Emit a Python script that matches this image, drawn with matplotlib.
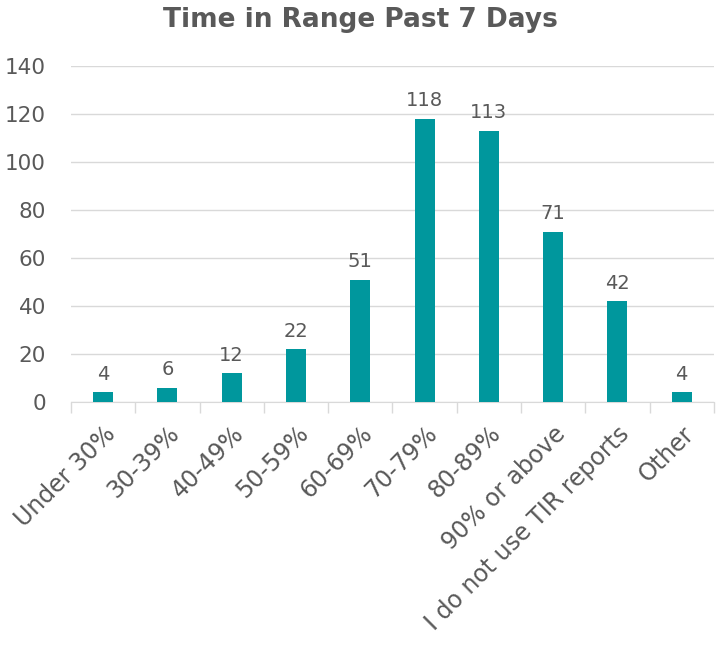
import matplotlib
matplotlib.use("Agg")
import matplotlib.pyplot as plt
import numpy as np

categories = ["Under 30%", "30-39%", "40-49%", "50-59%", "60-69%", "70-79%",
              "80-89%", "90% or above", "I do not use TIR reports", "Other"]
values = [4, 6, 12, 22, 51, 118, 113, 71, 42, 4]
yticks = [0, 20, 40, 60, 80, 100, 120, 140]

plt.rcParams['font.family'] = ['DejaVu Sans']
text_color = '#595959'
bar_color = '#00979D'
grid_color = '#D9D9D9'

fig = plt.figure(figsize=(7.21, 6.59), dpi=100)
ax = fig.add_axes([0.0985, 0.390, 0.8915, 0.510])

x = np.arange(len(categories))
ax.bar(x, values, width=0.31, color=bar_color, zorder=3)
for xi, v in zip(x, values):
    ax.text(xi, v + 3.5, str(v), ha='center', va='bottom', fontsize=14, color=text_color)

ax.set_xlim(-0.5, len(categories) - 0.5)
ax.set_ylim(0, 140)
ax.set_yticks(yticks)
ax.set_yticklabels([str(t) for t in yticks], fontsize=15.5, color=text_color)
ax.yaxis.grid(True, color=grid_color, linewidth=1, zorder=0)
ax.tick_params(axis='y', length=0, pad=18)

ax.set_xticks(x)
ax.set_xticklabels(categories, rotation=45, ha='right', rotation_mode='anchor',
                   fontsize=17, color=text_color)
ax.tick_params(axis='x', length=0, pad=14)
ax.set_xticks(np.arange(-0.5, len(categories) + 0.5, 1), minor=True)
ax.tick_params(axis='x', which='minor', length=8, color=grid_color, width=1)

for s in ['top', 'right', 'left']:
    ax.spines[s].set_visible(False)
ax.spines['bottom'].set_color(grid_color)

fig.text(0.5, 0.970, "Time in Range Past 7 Days", ha='center', va='center',
         fontsize=19, fontweight='bold', color=text_color)

fig.savefig("out.png", dpi=100)
